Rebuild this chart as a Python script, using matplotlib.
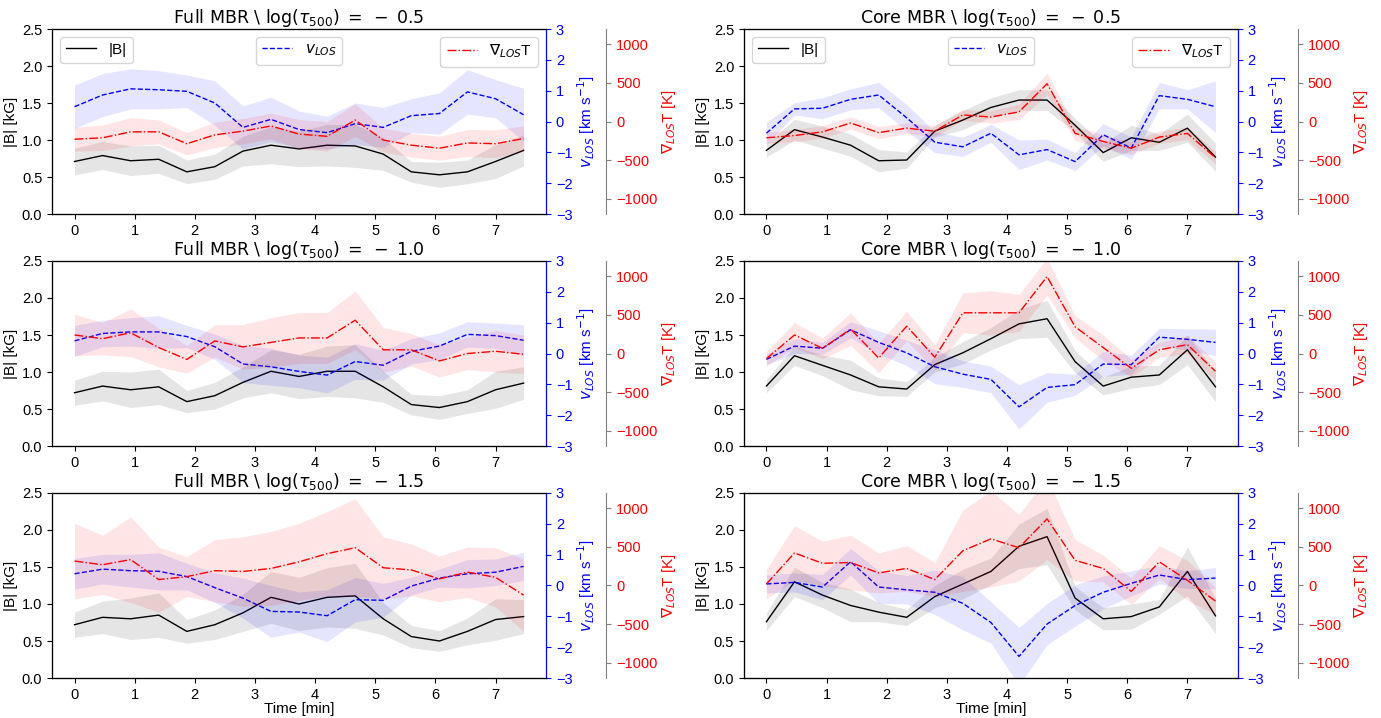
import numpy as np
import matplotlib
matplotlib.use("Agg")
import matplotlib.pyplot as plt

plt.rcParams['font.family'] = ['Liberation Sans', 'DejaVu Sans']
plt.rcParams['mathtext.fontset'] = 'dejavusans'

# temps en minutes (cadence 28 s)
time = [0.0, 0.467, 0.933, 1.4, 1.867, 2.333, 2.8, 3.267, 3.733, 4.2,
        4.667, 5.133, 5.6, 6.067, 6.533, 7.0, 7.467]

regions = ['Full MBR', 'Core MBR']
depths = ['0.5', '1.0', '1.5']

# Full MBR, log tau = -0.5
b_full05 = [0.71, 0.79, 0.72, 0.74, 0.57, 0.64, 0.85, 0.93, 0.88, 0.93, 0.92, 0.81, 0.57, 0.53, 0.57, 0.71, 0.86]
b_full05_err = [0.18, 0.19, 0.20, 0.19, 0.16, 0.17, 0.20, 0.25, 0.24, 0.28, 0.29, 0.22, 0.14, 0.17, 0.16, 0.23, 0.21]
v_full05 = [0.48, 0.86, 1.06, 1.03, 0.98, 0.60, -0.19, 0.07, -0.26, -0.36, -0.07, -0.19, 0.19, 0.26, 0.96, 0.74, 0.22]
v_full05_err = [0.70, 0.70, 0.65, 0.62, 0.53, 0.72, 0.70, 0.72, 0.60, 0.53, 0.67, 0.65, 0.55, 0.67, 0.72, 0.62, 0.86]
dt_full05 = [-230, -211, -134, -134, -288, -173, -125, -58, -163, -192, 19, -240, -307, -346, -278, -288, -221]
dt_full05_err = [155, 165, 185, 155, 145, 165, 165, 165, 190, 190, 210, 155, 155, 155, 175, 180, 165]

# Core MBR, log tau = -0.5
b_core05 = [0.86, 1.14, 1.04, 0.93, 0.72, 0.73, 1.12, 1.27, 1.44, 1.54, 1.54, 1.20, 0.83, 1.03, 0.97, 1.16, 0.77]
b_core05_err = [0.09, 0.14, 0.15, 0.15, 0.15, 0.11, 0.08, 0.13, 0.13, 0.14, 0.14, 0.09, 0.12, 0.17, 0.11, 0.19, 0.19]
v_core05 = [-0.38, 0.41, 0.43, 0.72, 0.86, 0.12, -0.67, -0.82, -0.38, -1.08, -0.91, -1.30, -0.43, -0.86, 0.84, 0.72, 0.48]
v_core05_err = [0.36, 0.20, 0.34, 0.34, 0.41, 0.43, 0.34, 0.31, 0.29, 0.48, 0.34, 0.29, 0.36, 0.36, 0.43, 0.31, 0.84]
dt_core05 = [-211, -182, -134, -19, -144, -86, -125, 86, 58, 125, 490, -154, -259, -346, -202, -154, -470]
dt_core05_err = [70, 80, 80, 80, 80, 70, 70, 70, 80, 100, 140, 90, 90, 80, 80, 80, 80]

# Full MBR, log tau = -1.0
b_full10 = [0.72, 0.81, 0.76, 0.80, 0.60, 0.68, 0.86, 1.01, 0.94, 1.01, 1.01, 0.80, 0.56, 0.52, 0.60, 0.76, 0.85]
b_full10_err = [0.17, 0.20, 0.24, 0.24, 0.15, 0.18, 0.21, 0.29, 0.30, 0.34, 0.36, 0.21, 0.14, 0.16, 0.16, 0.25, 0.22]
v_full10 = [0.41, 0.65, 0.70, 0.70, 0.55, 0.22, -0.34, -0.43, -0.58, -0.70, -0.26, -0.38, 0.07, 0.24, 0.62, 0.58, 0.43]
v_full10_err = [0.50, 0.43, 0.46, 0.53, 0.36, 0.41, 0.60, 0.60, 0.53, 0.58, 0.58, 0.48, 0.41, 0.43, 0.41, 0.41, 0.50]
dt_full10 = [240, 192, 269, 77, -77, 163, 86, 144, 202, 202, 432, 48, 48, -96, 0, 29, -10]
dt_full10_err = [270, 210, 310, 250, 180, 210, 290, 320, 330, 330, 380, 290, 210, 210, 210, 270, 250]

# Core MBR, log tau = -1.0
b_core10 = [0.81, 1.22, 1.09, 0.96, 0.80, 0.77, 1.10, 1.26, 1.45, 1.65, 1.72, 1.14, 0.81, 0.93, 0.96, 1.30, 0.80]
b_core10_err = [0.09, 0.13, 0.14, 0.20, 0.12, 0.10, 0.10, 0.15, 0.15, 0.20, 0.25, 0.15, 0.12, 0.15, 0.13, 0.20, 0.20]
v_core10 = [-0.19, 0.24, 0.17, 0.77, 0.36, 0.02, -0.43, -0.67, -0.84, -1.73, -1.10, -1.01, -0.34, -0.36, 0.53, 0.46, 0.36]
v_core10_err = [0.17, 0.24, 0.19, 0.26, 0.38, 0.41, 0.55, 0.43, 0.43, 0.72, 0.48, 0.34, 0.41, 0.31, 0.29, 0.34, 0.43]
dt_core10 = [-67, 240, 67, 317, -58, 355, -48, 528, 528, 528, 998, 346, 77, -192, 48, 115, -230]
dt_core10_err = [96, 163, 134, 211, 192, 192, 163, 259, 288, 240, 240, 144, 163, 115, 96, 115, 125]

# Full MBR, log tau = -1.5
b_full15 = [0.72, 0.82, 0.80, 0.85, 0.63, 0.72, 0.88, 1.09, 1.00, 1.09, 1.11, 0.80, 0.56, 0.50, 0.63, 0.79, 0.83]
b_full15_err = [0.17, 0.22, 0.28, 0.30, 0.16, 0.20, 0.25, 0.35, 0.36, 0.40, 0.44, 0.22, 0.15, 0.14, 0.18, 0.28, 0.23]
v_full15 = [0.38, 0.53, 0.48, 0.46, 0.29, -0.07, -0.41, -0.84, -0.86, -0.98, -0.46, -0.48, -0.02, 0.24, 0.38, 0.43, 0.62]
v_full15_err = [0.50, 0.48, 0.53, 0.60, 0.43, 0.48, 0.65, 0.84, 0.65, 0.84, 0.72, 0.55, 0.29, 0.29, 0.46, 0.43, 0.46]
dt_full15 = [317, 269, 336, 77, 115, 192, 182, 221, 307, 413, 490, 230, 202, 86, 173, 106, -125]
dt_full15_err = [490, 384, 557, 422, 259, 403, 451, 480, 499, 547, 634, 403, 336, 298, 326, 384, 470]

# Core MBR, log tau = -1.5
b_core15 = [0.76, 1.30, 1.12, 0.98, 0.89, 0.82, 1.10, 1.27, 1.44, 1.78, 1.91, 1.08, 0.80, 0.83, 0.96, 1.44, 0.84]
b_core15_err = [0.12, 0.20, 0.17, 0.22, 0.13, 0.11, 0.15, 0.20, 0.18, 0.30, 0.38, 0.16, 0.15, 0.17, 0.10, 0.33, 0.24]
v_core15 = [0.05, 0.10, -0.05, 0.77, -0.05, -0.14, -0.22, -0.58, -1.20, -2.30, -1.25, -0.65, -0.22, 0.07, 0.34, 0.19, 0.24]
v_core15_err = [0.29, 0.31, 0.41, 0.43, 0.53, 0.46, 0.72, 0.86, 0.67, 0.94, 0.67, 0.67, 0.53, 0.41, 0.29, 0.29, 0.34]
dt_core15 = [19, 422, 288, 298, 163, 221, 77, 451, 605, 490, 864, 326, 221, -77, 307, 67, -202]
dt_core15_err = [192, 355, 288, 355, 259, 298, 221, 528, 624, 432, 528, 269, 173, 173, 211, 259, 173]

# rangées = profondeurs, colonnes = régions
panels = [
    [(b_full05, b_full05_err, v_full05, v_full05_err, dt_full05, dt_full05_err),
     (b_core05, b_core05_err, v_core05, v_core05_err, dt_core05, dt_core05_err)],
    [(b_full10, b_full10_err, v_full10, v_full10_err, dt_full10, dt_full10_err),
     (b_core10, b_core10_err, v_core10, v_core10_err, dt_core10, dt_core10_err)],
    [(b_full15, b_full15_err, v_full15, v_full15_err, dt_full15, dt_full15_err),
     (b_core15, b_core15_err, v_core15, v_core15_err, dt_core15, dt_core15_err)],
]

fig = plt.figure(figsize=(13.81, 7.18), dpi=100)
col_left = [0.0377, 0.5387]
row_bottom = [0.7019, 0.3788, 0.0557]
w, h = 0.3577, 0.2577
fs_tick = 10.5
fs_lab = 11
t = np.array(time)

for i in range(3):
    for j in range(2):
        b, be, v, ve, dt, dte = [np.array(a) for a in panels[i][j]]
        ax = fig.add_axes([col_left[j], row_bottom[i], w, h])
        axv = ax.twinx()
        axt = ax.twinx()
        axt.spines['right'].set_position(('axes', 1.122))

        lb, = ax.plot(t, b, color='k', lw=1, label='|B|')
        ax.fill_between(t, b - be, b + be, color='k', alpha=0.1, lw=0)
        lv, = axv.plot(t, v, color='b', ls='--', lw=1, label=r'$v_{LOS}$')
        axv.fill_between(t, v - ve, v + ve, color='b', alpha=0.1, lw=0)
        lt, = axt.plot(t, dt, color='r', ls='-.', lw=1, label=r'$\nabla_{LOS}$T')
        axt.fill_between(t, dt - dte, dt + dte, color='r', alpha=0.1, lw=0)

        ax.set_ylim(0, 2.5)
        ax.set_yticks([0, 0.5, 1.0, 1.5, 2.0, 2.5])
        ax.set_xticks(range(8))
        ax.set_ylabel('|B| [kG]', fontsize=fs_lab, labelpad=3)
        ax.tick_params(labelsize=fs_tick)
        if i == 2:
            ax.set_xlabel('Time [min]', fontsize=fs_lab, labelpad=0)

        axv.set_ylim(-3, 3)
        axv.set_yticks(range(-3, 4))
        axv.set_ylabel(r'$v_{LOS}$ [km s$^{-1}$]', color='b', fontsize=fs_lab, labelpad=2)
        axv.tick_params(axis='y', colors='b', labelsize=fs_tick)
        axv.spines['right'].set_color('b')

        axt.set_ylim(-1200, 1200)
        axt.set_yticks([-1000, -500, 0, 500, 1000])
        axt.set_ylabel(r'$\nabla_{LOS}$T [K]', color='r', fontsize=fs_lab, labelpad=2)
        axt.tick_params(axis='y', color='gray', labelcolor='r', labelsize=fs_tick)
        axt.spines['right'].set_color('gray')

        ax.set_title(regions[j] + r' \ log($\tau_{500}$)$\;=\;-\;' + depths[i] + '$',
                     fontsize=12.5, family='DejaVu Sans', pad=4)

        if i == 0:
            leg1 = axt.legend(handles=[lb], loc='upper left', fontsize=fs_lab)
            axt.add_artist(leg1)
            leg2 = axt.legend(handles=[lv], loc='upper center', fontsize=fs_lab)
            axt.add_artist(leg2)
            axt.legend(handles=[lt], loc='upper right', fontsize=fs_lab)

fig.savefig('out.png', dpi=100)
